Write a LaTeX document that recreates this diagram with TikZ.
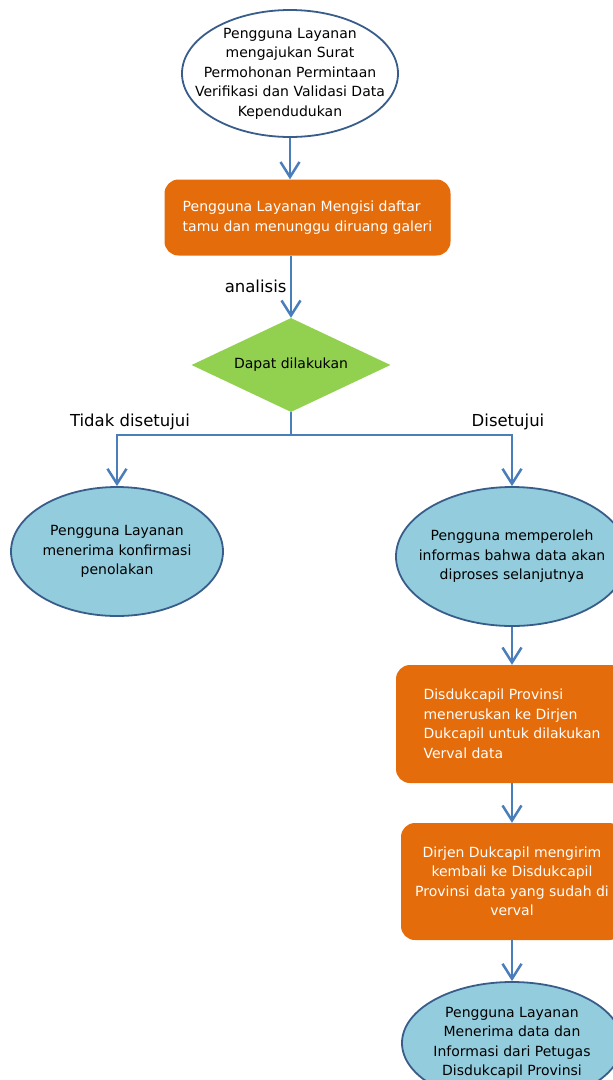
\documentclass[tikz,border=0pt]{standalone}
\usepackage{fontspec}
\setmainfont{DejaVu Sans}
\usetikzlibrary{shapes.geometric,arrows.meta}

\definecolor{linkblue}{HTML}{4A7EBB}
\definecolor{rimblue}{HTML}{385D8A}
\definecolor{boxorange}{HTML}{E46C0A}
\definecolor{leafgreen}{HTML}{92D050}
\definecolor{skyblue}{HTML}{93CDDD}

\begin{document}
\begin{tikzpicture}[x=1pt,y=-1pt,
    every node/.style={font=\fontsize{14}{19.5}\selectfont},
    oval/.style={ellipse, draw=rimblue, line width=1.8pt, inner xsep=-30pt, inner ysep=-15pt, align=center},
    proc/.style={rectangle, rounded corners=14pt, fill=boxorange, text=white, inner sep=0pt},
    flow/.style={draw=linkblue, line width=2.5pt, -{Straight Barb[length=15pt,width=19pt]}},
    tag/.style={font=\fontsize{16.5}{20}\selectfont}]
    \useasboundingbox (0,0) rectangle (613,1080);
    \clip (0,0) rectangle (613,1080);
    % alur utama
        \node[oval, fill=white, minimum width=216pt, minimum height=127pt] (ajuan) at (290,73.5) {Pengguna Layanan\\mengajukan Surat\\Permohonan Permintaan\\Verifikasi dan Validasi Data\\Kependudukan};
        \node[proc, align=left, minimum width=286pt, minimum height=76pt] (tamu) at (307.5,217.5) {Pengguna Layanan Mengisi daftar\\tamu dan menunggu diruang galeri};
        \node[diamond, aspect=2.2, fill=leafgreen, inner sep=0pt, minimum width=199pt, minimum height=94pt] (cek) at (291,365) {Dapat dilakukan};
        \coordinate (cabang) at (291,435);
        \node[tag] (tolakteks) at (130,422) {Tidak disetujui};
        \node[tag] (setujuteks) at (508,422) {Disetujui};
        \node[oval, fill=skyblue, minimum width=212pt, minimum height=129pt] (tolak) at (117,551.5) {Pengguna Layanan\\menerima konfirmasi\\penolakan};
        \node[oval, fill=skyblue, minimum width=232pt, minimum height=139pt] (setuju) at (512,556.5) {Pengguna memperoleh\\informas bahwa data akan\\diproses selanjutnya};
    % cabang disetujui
        \node[proc, align=left, minimum width=232pt, minimum height=118pt] (verval) at (512,724) {Disdukcapil Provinsi\\meneruskan ke Dirjen\\Dukcapil untuk dilakukan\\Verval data};
        \node[proc, align=center, minimum width=222pt, minimum height=117pt] (kirim) at (512,881.5) {Dirjen Dukcapil mengirim\\kembali ke Disdukcapil\\Provinsi data yang sudah di\\verval};
        \node[oval, fill=skyblue, minimum width=220pt, minimum height=122pt] (terima) at (512,1043) {Pengguna Layanan\\Menerima data dan\\Informasi dari Petugas\\Disdukcapil Provinsi};
    % panah
        \draw[flow] (ajuan.south) -- (ajuan.south |- tamu.north);
        \draw[flow] (cek.north |- tamu.south) -- node[tag, left] (analisis) {analisis} (cek.north);
        \draw[linkblue, line width=2.5pt] (cek.south) -- (cabang);
        \draw[flow] (cabang) -| (tolak);
        \draw[flow] (cabang) -| (setuju);
        \draw[flow] (setuju) -- (verval);
        \draw[flow] (verval) -- (kirim);
        \draw[flow] (kirim) -- (terima);
\end{tikzpicture}
\end{document}
